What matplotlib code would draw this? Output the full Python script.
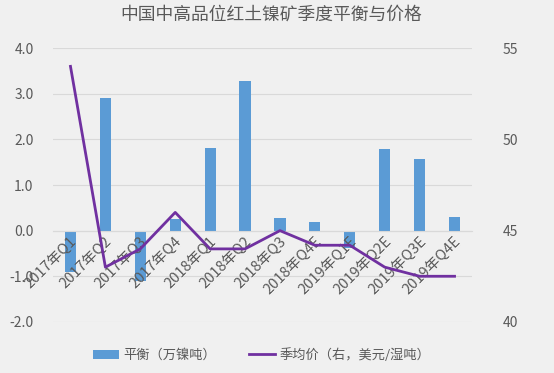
import matplotlib
matplotlib.use("Agg")
import matplotlib.pyplot as plt
import numpy as np

plt.rcParams['font.family'] = ['Noto Sans CJK SC', 'DejaVu Sans']

# ===== Data =====
categories = ["2017年Q1", "2017年Q2", "2017年Q3", "2017年Q4",
              "2018年Q1", "2018年Q2", "2018年Q3", "2018年Q4E",
              "2019年Q1E", "2019年Q2E", "2019年Q3E", "2019年Q4E"]
balance = [-0.9, 2.9, -1.1, 0.25, 1.82, 3.28, 0.27, 0.18, -0.38, 1.78, 1.58, 0.3]
price = [54, 43, 44, 46, 44, 44, 45, 44.2, 44.2, 43, 42.5, 42.5]

bar_color = "#5B9BD5"
line_color = "#7030A0"
text_color = "#595959"
bg = "#F0F0F0"

fig = plt.figure(figsize=(5.54, 3.73), dpi=100, facecolor=bg)
ax = fig.add_axes([0.0957, 0.137, 0.7563, 0.734])
ax.set_facecolor("none")
x = np.arange(len(categories))

ax.bar(x, balance, width=0.32, color=bar_color, zorder=2, label="平衡（万镍吨）")
ax.set_ylim(-2, 4)
ax.set_yticks(np.arange(-2, 4.1, 1))
ax.set_yticklabels([f"{v:.1f}" for v in np.arange(-2, 4.1, 1)])
ax.set_xlim(-0.5, len(categories) - 0.5)
ax.grid(axis="y", color="#D9D9D9", linewidth=0.8, zorder=0)

for s in ["top", "right", "left"]:
    ax.spines[s].set_visible(False)
ax.spines["bottom"].set_position(("data", 0))
ax.spines["bottom"].set_color("#D9D9D9")
ax.set_xticks(x)
ax.set_xticklabels(categories, rotation=45, ha="right", va="top",
                   rotation_mode="anchor", fontsize=10.5, color=text_color)
ax.xaxis.set_zorder(3)  # category labels sit on top of the bars
ax.tick_params(axis="x", length=0, pad=3)
ax.tick_params(axis="y", length=0, labelsize=10, labelcolor=text_color, pad=14)

ax2 = ax.twinx()
ax2.plot(x, price, color=line_color, linewidth=2, zorder=3, label="季均价（右，美元/湿吨）")
ax2.set_ylim(40, 55)
ax2.set_yticks([40, 45, 50, 55])
ax2.tick_params(axis="y", length=0, labelsize=10, labelcolor=text_color, pad=22)
for s in ["top", "right", "left", "bottom"]:
    ax2.spines[s].set_visible(False)

fig.suptitle("中国中高品位红土镍矿季度平衡与价格", x=0.49, y=0.985,
             fontsize=12.8, color=text_color)

h1, l1 = ax.get_legend_handles_labels()
h2, l2 = ax2.get_legend_handles_labels()
fig.legend(h1 + h2, l1 + l2, loc="center", bbox_to_anchor=(0.472, 0.048),
           ncol=2, frameon=False, fontsize=9.5, labelcolor=text_color,
           handlelength=2.0, handletextpad=0.3, columnspacing=2.5)

fig.savefig("out.png", dpi=100, facecolor=bg)
